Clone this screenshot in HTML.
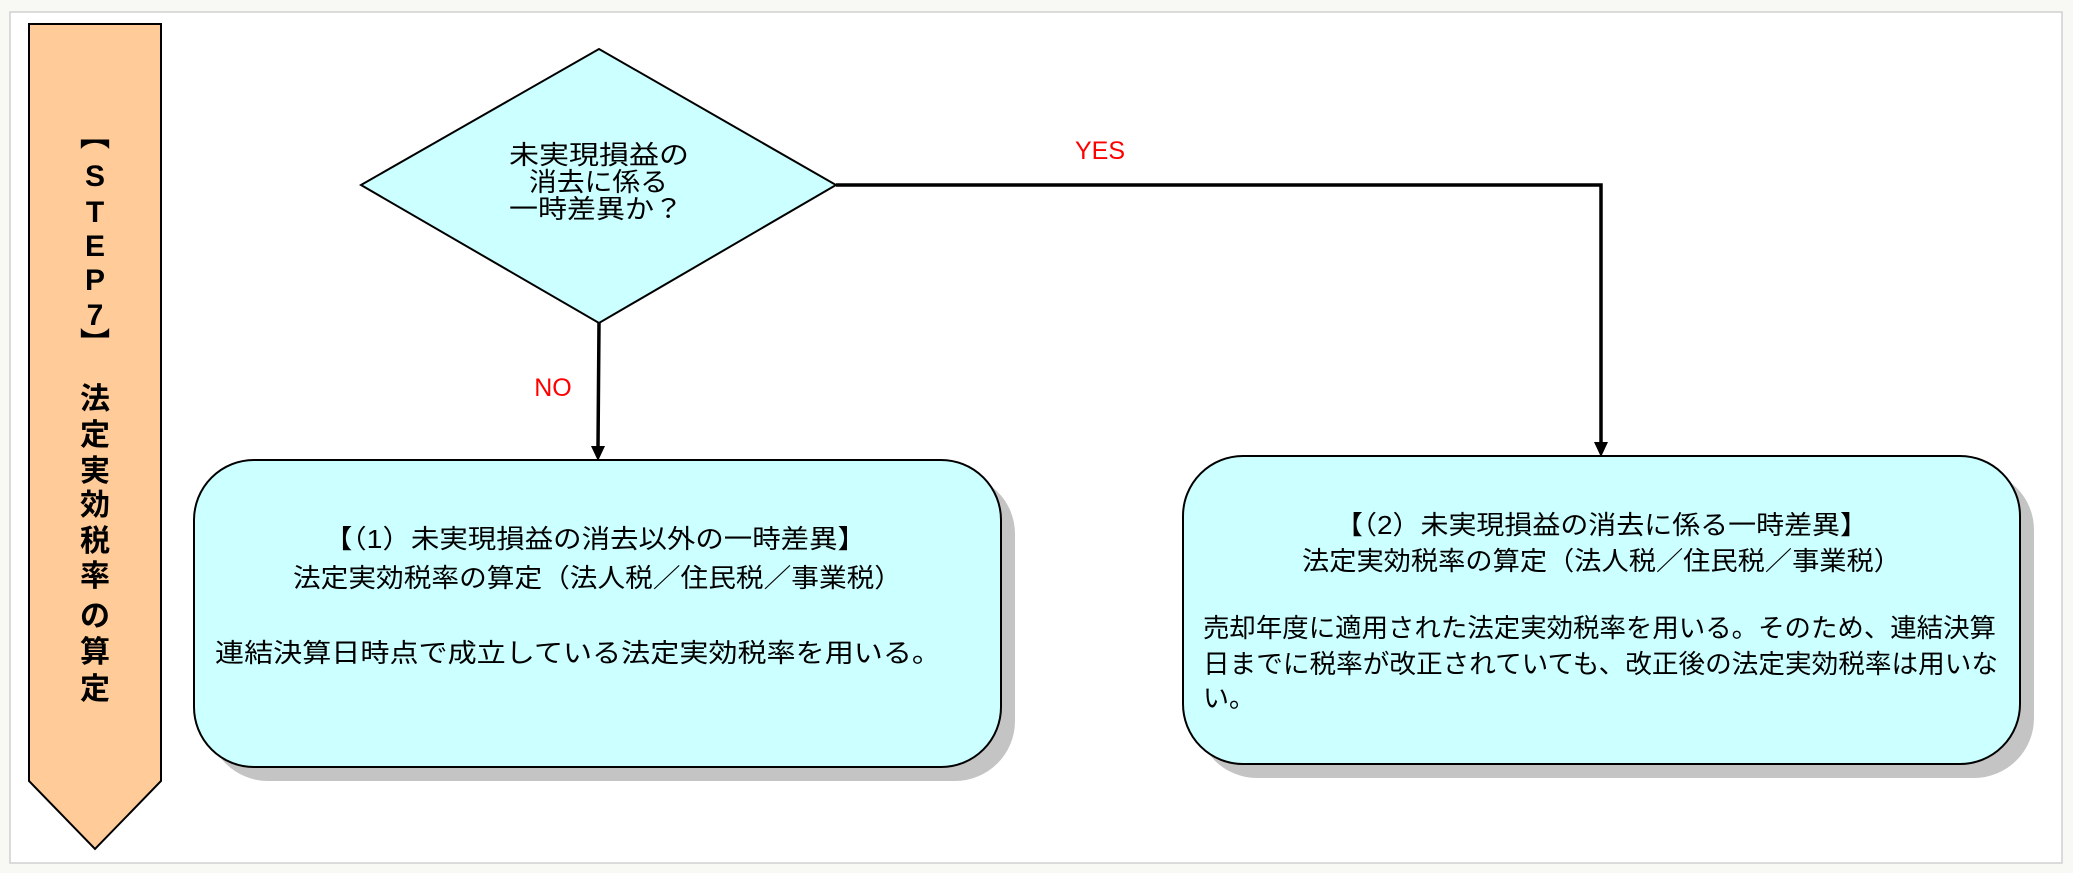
<!DOCTYPE html>
<html><head><meta charset="utf-8"><style>
html,body{margin:0;padding:0;background:#f8f8f4;}
svg{display:block}
text{font-family:"Liberation Sans","Noto Sans CJK JP",sans-serif;}
</style></head><body>
<svg width="2073" height="873" viewBox="0 0 2073 873" xmlns="http://www.w3.org/2000/svg">
<rect x="10" y="12" width="2052" height="851" fill="#fff" stroke="#d0d0d0" stroke-width="1.5"/>
<polygon points="29,24 161,24 161,781 95,849 29,781" fill="#ffcc99" stroke="#000" stroke-width="2"/>
<g font-size="30" font-weight="bold" text-anchor="middle" fill="#000">
<text x="95" y="146">︻</text>
<text x="95" y="186">S</text>
<text x="95" y="222">T</text>
<text x="95" y="256">E</text>
<text x="95" y="290">P</text>
<text x="95" y="325">7</text>
<text x="95" y="354">︼</text>
<text x="95" y="409">法</text>
<text x="95" y="445">定</text>
<text x="95" y="481">実</text>
<text x="95" y="515">効</text>
<text x="95" y="551">税</text>
<text x="95" y="586">率</text>
<text x="95" y="626">の</text>
<text x="95" y="662">算</text>
<text x="95" y="699">定</text>
</g>
<polygon points="361,185 599,49 836,185 599,323" fill="#ccffff" stroke="#000" stroke-width="2"/>
<g font-size="26" fill="#000">
<text x="509" y="164" textLength="180" lengthAdjust="spacingAndGlyphs">未実現損益の</text>
<text x="529" y="191" textLength="139" lengthAdjust="spacingAndGlyphs">消去に係る</text>
<text x="509" y="218" textLength="174" lengthAdjust="spacingAndGlyphs">一時差異か？</text>
</g>
<polyline points="836,185 1601,185 1601,446" fill="none" stroke="#000" stroke-width="3.5"/>
<polygon points="1594,442 1608,442 1601,457" fill="#000"/>
<line x1="599" y1="323" x2="598" y2="448" stroke="#000" stroke-width="3.5"/>
<polygon points="591,446 605,446 598,461" fill="#000"/>
<text x="1100" y="159" font-size="25" fill="#ff0000" text-anchor="middle">YES</text>
<text x="553" y="396" font-size="25" fill="#ff0000" text-anchor="middle">NO</text>
<rect x="208" y="474" width="807" height="307" rx="60" fill="#c4c4c4"/>
<rect x="194" y="460" width="807" height="307" rx="60" fill="#ccffff" stroke="#000" stroke-width="2"/>
<rect x="1197" y="470" width="837" height="308" rx="60" fill="#c4c4c4"/>
<rect x="1183" y="456" width="837" height="308" rx="60" fill="#ccffff" stroke="#000" stroke-width="2"/>
<g font-size="26" fill="#000">
<text x="324" y="548" textLength="542" lengthAdjust="spacingAndGlyphs">【（1）未実現損益の消去以外の一時差異】</text>
<text x="293" y="587" textLength="609" lengthAdjust="spacingAndGlyphs">法定実効税率の算定（法人税／住民税／事業税）</text>
<text x="215" y="662" textLength="726" lengthAdjust="spacingAndGlyphs">連結決算日時点で成立している法定実効税率を用いる。</text>
<text x="1335" y="534" textLength="533" lengthAdjust="spacingAndGlyphs">【（2）未実現損益の消去に係る一時差異】</text>
<text x="1302" y="570" textLength="599" lengthAdjust="spacingAndGlyphs">法定実効税率の算定（法人税／住民税／事業税）</text>
<text x="1203" y="637" textLength="793" lengthAdjust="spacingAndGlyphs">売却年度に適用された法定実効税率を用いる。そのため、連結決算</text>
<text x="1203" y="673" textLength="795" lengthAdjust="spacingAndGlyphs">日までに税率が改正されていても、改正後の法定実効税率は用いな</text>
<text x="1203" y="707">い。</text>
</g>
</svg>
</body></html>
